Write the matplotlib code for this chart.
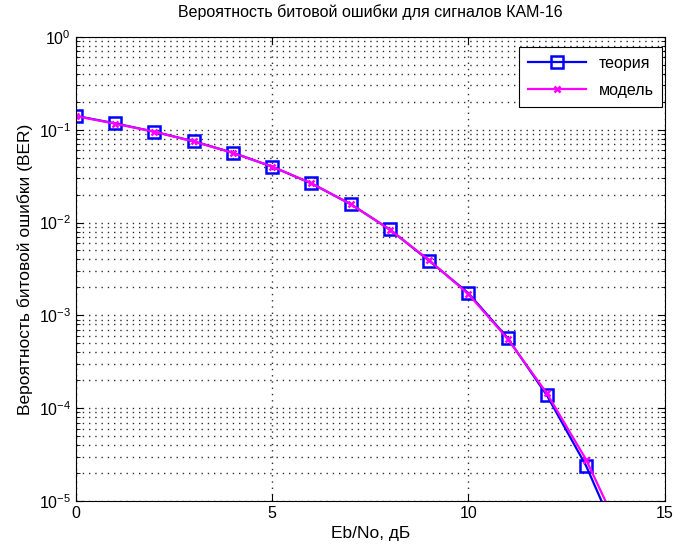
import numpy as np
import matplotlib.pyplot as plt
from matplotlib.ticker import LogLocator, NullFormatter, FixedLocator

plt.rcParams['font.family'] = ['Liberation Sans', 'DejaVu Sans']

ebno = [0, 1, 2, 3, 4, 5, 6, 7, 8, 9, 10, 11, 12, 13, 14]
ber_theory = [0.141, 0.117, 0.0951, 0.0750, 0.0565, 0.0400, 0.0264, 0.0158,
              0.00842, 0.00388, 0.00174, 0.000571, 0.000138, 2.4e-5, 2.6e-6]
ber_model = [0.140, 0.116, 0.0950, 0.0748, 0.0563, 0.0401, 0.0265, 0.0158,
             0.00840, 0.00393, 0.00170, 0.000560, 0.000145, 2.8e-5, 3.5e-6]

fig = plt.figure(figsize=(6.83, 5.5), dpi=100)
ax = fig.add_axes([0.111, 0.089, 0.862, 0.844])

ax.semilogy(ebno, ber_theory, color='#0000ff', lw=1.6, marker='s', ms=9,
            mfc='none', mec='#0000ff', mew=1.8, label='теория')
ax.semilogy(ebno, ber_model, color='#ff00ff', lw=1.6, marker='x', ms=5,
            mew=1.8, label='модель')

ax.set_xlim(0, 15)
ax.set_ylim(1e-5, 1)
ax.xaxis.set_major_locator(FixedLocator([0, 5, 10, 15]))
ax.yaxis.set_major_locator(LogLocator(base=10, numticks=10))
ax.yaxis.set_minor_locator(LogLocator(base=10, subs=np.arange(2, 10), numticks=10))
ax.yaxis.set_minor_formatter(NullFormatter())

dots = (0, (1, 3.5))
ax.grid(True, which='major', color='#303030', ls=dots, lw=1)
ax.grid(True, which='minor', axis='y', color='#303030', ls=dots, lw=1)

ax.tick_params(which='both', direction='in', top=True, right=True, labelsize=11.5)
ax.tick_params(which='major', length=5)
ax.tick_params(which='minor', length=3)
for s in ax.spines.values():
    s.set_linewidth(0.8)

ax.set_title('Вероятность битовой ошибки для сигналов КАМ-16', fontsize=11.5, pad=14)
ax.set_xlabel('Eb/No, дБ', fontsize=12.5)
ax.set_ylabel('Вероятность битовой ошибки (BER)', fontsize=12.5)

leg = ax.legend(loc='upper right', bbox_to_anchor=(0.996, 0.978), borderaxespad=0,
                fontsize=11.5, fancybox=False, framealpha=1, edgecolor='black',
                handlelength=3.6, labelspacing=0.75, borderpad=0.55)
leg.get_frame().set_linewidth(0.8)

fig.savefig('out.png', dpi=100)
